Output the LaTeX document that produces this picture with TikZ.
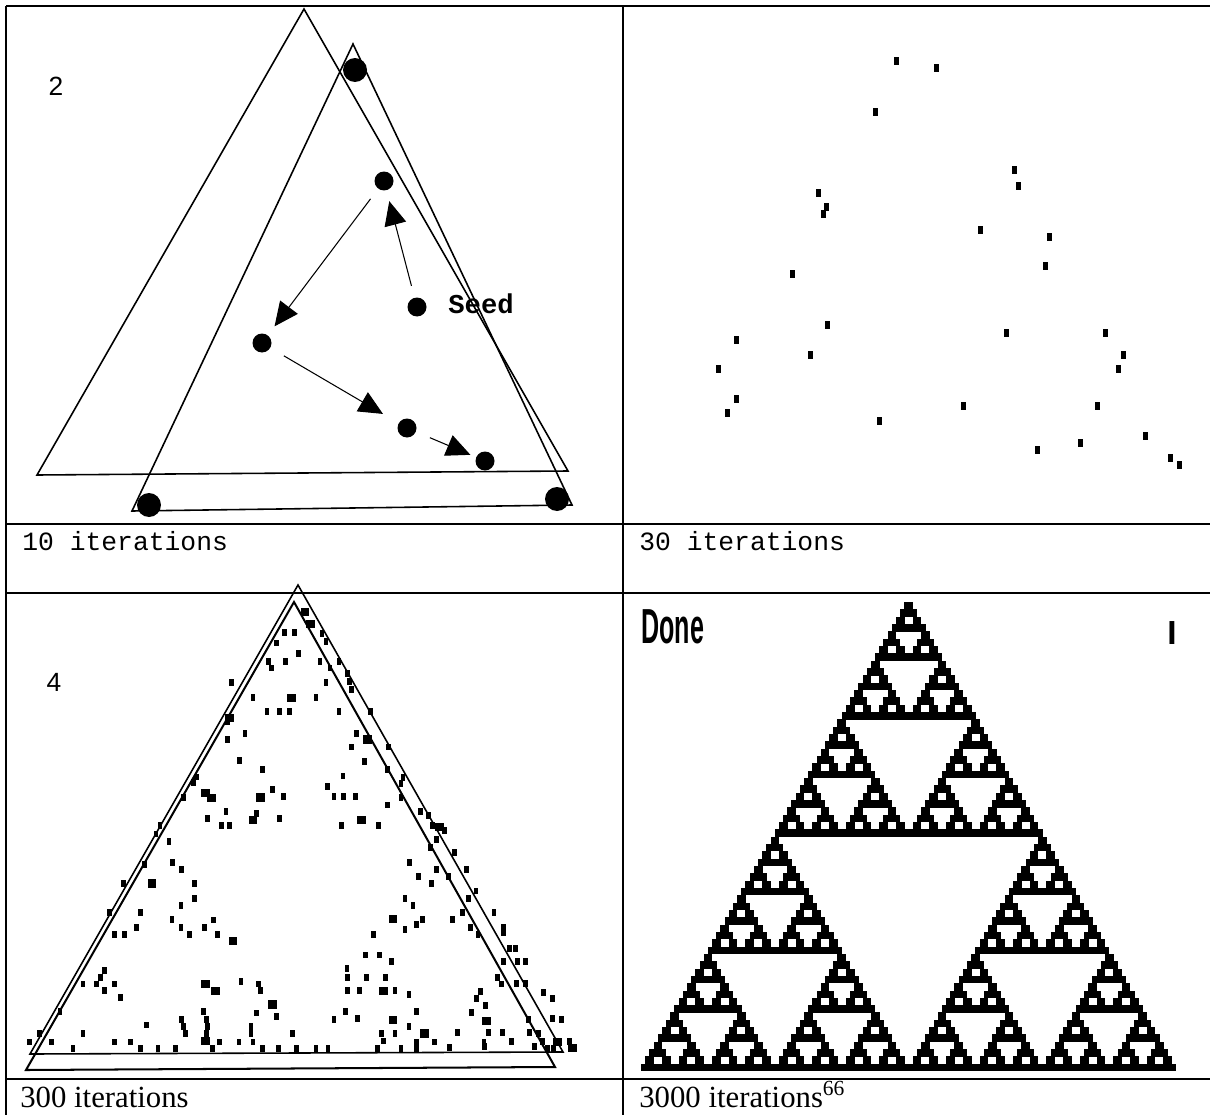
\documentclass[tikz,border=0pt]{standalone}
\usepackage{fontspec}
\setmainfont{Liberation Serif}
\newfontfamily\monofont{Liberation Mono}
\newfontfamily\sansfont{Liberation Sans}
\usetikzlibrary{arrows.meta}
\begin{document}
\begin{tikzpicture}[x=0.02cm,y=-0.02cm]
\tikzset{
  rule/.style={line width=0.85pt},
  tri/.style={line width=0.9pt, line join=miter},
  tribold/.style={line width=1.15pt, line join=miter},
  bigdot/.style={circle, fill=black, inner sep=0pt, minimum size=0.48cm},
  smalldot/.style={circle, fill=black, inner sep=0pt, minimum size=0.38cm},
  arr/.style={line width=0.6pt, -{Triangle[length=0.48cm, width=0.44cm]}},
}
\useasboundingbox (0,0) rectangle (1210,1115);
\fill[white] (0,0) rectangle (1210,1115);

% table rules
\draw[rule] (6,6) -- (1210,6);
\draw[rule] (6,524) -- (1210,524);
\draw[rule] (6,593) -- (1210,593);
\draw[rule] (6,1079) -- (1210,1079);
\draw[rule] (6,6) -- (6,1115);
\draw[rule] (623,6) -- (623,1115);

% ---------------- panel 1 ----------------
\draw[tri] (304,9) -- (37,475) -- (568,471) -- cycle;
\draw[tri] (353,44) -- (132,511) -- (572,505) -- cycle;
\node[bigdot] (c1) at (355,70) {};
\node[bigdot] (c2) at (149,505) {};
\node[bigdot] (c3) at (557,499) {};
\node[smalldot] (p1) at (384,181) {};
\node[smalldot] (seed) at (417,307) {};
\node[smalldot] (p2) at (262,343) {};
\node[smalldot] (p3) at (407,428) {};
\node[smalldot] (p4) at (485,461) {};
\draw[arr, shorten <=0.24cm, shorten >=0.22cm] (seed) -- (p1);
\draw[arr, shorten <=0.25cm, shorten >=0.22cm] (p1) -- (p2);
\draw[arr, shorten <=0.31cm, shorten >=0.36cm] (p2) -- (p3);
\draw[arr, shorten <=0.30cm, shorten >=0.12cm] (p3) -- (p4);
\node[anchor=west, inner sep=0pt, font=\monofont\bfseries\fontsize{15.5}{18}\selectfont] (seedlbl) at (448,304) {Seed};
\node[inner sep=0pt, font=\sansfont\fontsize{15}{18}\selectfont] (lbl2) at (56,86) {2};
\node[anchor=base west, inner sep=0pt, font=\monofont\fontsize{15}{18}\selectfont] (cap1) at (22,550) {10 iterations};

% ---------------- panel 2 ----------------
\foreach \x/\y in {896.9/61.2, 936.6/68.1, 875.1/112.1, 1014.8/170.3, 1018.3/185.6,
  818.7/192.5, 826.8/206.7, 823.0/214.3, 980.2/229.6, 1049.0/236.5, 792.6/274.0,
  1045.1/266.4, 827.6/324.9, 736.2/340.2, 1006.2/333.0, 1105.8/333.0, 810.1/355.1,
  1123.0/355.1, 718.7/369.3, 1118.7/369.3, 736.2/399.2, 727.2/413.3, 963.0/406.0,
  1097.3/406.0, 879.8/420.6, 1145.1/435.9, 1080.2/442.8, 1037.0/450.4, 1170.4/457.7,
  1179.4/465.0}
  \fill (\x-2.5,\y-4) rectangle ++(5,8);
\node[anchor=base west, inner sep=0pt, font=\monofont\fontsize{15}{18}\selectfont] (cap2) at (639,550) {30 iterations};

% ---------------- panel 3 ----------------
\draw[tri] (298,585) -- (30,1054) -- (563,1052) -- cycle;
\draw[tribold] (294,602) -- (26,1070) -- (555,1067) -- cycle;
\begin{scope}[shift={(0,580)}, x=0.0079083cm, y=-0.0068236cm]
\foreach \x/\y in {
 720/155, 745/155, 815/158, 825/180, 700/185, 755/215,
 722/238, 810/238, 858/238, 680/240, 688/258, 835/258, 880/275,
 585/300, 825/300, 885/298, 890/320, 640/345, 800/345,
 676/385, 708/385, 733/385, 858/385, 937/385, 575/415,
 620/450, 902/450, 575/468, 890/490, 983/490, 607/530, 922/532,
 665/555, 980/555, 868/575, 1020/580, 498/578, 490/595, 1015/598,
 828/605, 690/615, 465/638, 717/635, 845/635, 870/635, 900/635, 1015/638,
 980/660, 572/680, 650/685, 1065/680, 1085/690, 525/700, 708/700,
 405/720, 560/720, 580/720, 865/720, 958/720, 1095/720, 1125/735,
 395/745, 1105/760, 428/768, 1090/785, 1150/800,
 437/828, 365/835, 1037/828, 460/850, 1105/850, 1180/850,
 1060/870, 1135/870, 313/890, 493/890, 1092/890, 1205/912,
 493/935, 1025/935, 1185/935, 458/955, 1045/955,
 277/975, 355/975, 1170/975, 1250/975, 435/995, 540/997, 1070/995, 1145/995,
 345/1020, 458/1020, 517/1020, 1055/1010, 1025/1025, 1190/1020, 1275/1020,
 290/1040, 315/1040, 480/1040, 550/1040, 945/1040, 1210/1040, 1275/1035,
 1290/1080, 1305/1080, 925/1100, 960/1100,
 990/1118, 1275/1120, 1310/1120, 1330/1120, 265/1145, 878/1140,
 255/1165, 880/1165, 928/1165, 975/1165, 1260/1165,
 210/1185, 245/1185, 290/1185, 610/1178, 655/1185, 1270/1185, 1307/1184, 1330/1184,
 265/1205, 660/1205, 880/1205, 910/1205, 1000/1205, 1035/1215, 1216/1208, 1376/1211,
 305/1225, 1206/1228, 1399/1228, 1229/1249,
 152/1265, 515/1265, 650/1270, 875/1265, 1055/1265, 1194/1269,
 700/1280, 905/1285, 845/1290, 1399/1287, 1421/1290, 1338/1290, 460/1290, 522/1290, 370/1305,
 465/1310, 525/1310, 635/1310, 1035/1310,
 100/1330, 210/1330, 470/1330, 522/1330, 635/1330, 740/1330, 965/1330, 1000/1330,
 1158/1328, 1237/1328, 1272/1328, 1340/1328, 1363/1331,
 75/1355, 130/1355, 290/1355, 330/1355, 555/1355, 605/1355, 640/1355, 970/1352,
 1055/1355, 1100/1355, 1225/1355, 1295/1354, 1373/1354, 1442/1354,
 185/1375, 355/1375, 400/1375, 445/1375, 538/1375, 665/1375, 705/1375, 750/1375,
 800/1375, 830/1375, 955/1375, 1015/1375, 1055/1375, 1138/1372, 1227/1369, 1353/1369,
 1385/1375, 1400/1375}
  \fill (\x-6,\y-10) rectangle ++(12,20);
\foreach \x/\y in {772/95, 786/128, 737/345, 580/405, 930/468, 520/625, 535/640,
  660/638, 640/705, 915/705, 1112/725, 385/890, 995/995, 590/1058, 520/1185,
  545/1205, 970/1205, 690/1245, 995/1290, 1232/1293, 1075/1330, 520/1352,
  1411/1354, 1449/1372}
  \fill (\x-11,\y-12) rectangle ++(22,24);
\end{scope}
\node[inner sep=0pt, font=\sansfont\fontsize{15}{18}\selectfont] (lbl4) at (54,682) {4};
\node[anchor=base west, inner sep=0pt, font=\fontsize{17.5}{20}\selectfont] (cap3) at (20,1107) {300 iterations};

% ---------------- panel 4 ----------------
\foreach \a in {0,1,2}{
 \foreach \b in {0,1,2}{
  \foreach \c in {0,1,2}{
   \foreach \d in {0,1,2}{
    \foreach \e in {0,1,2}{
     \foreach \f in {0,1,2}{
      \pgfmathsetmacro\rr{32*(\a>0)+16*(\b>0)+8*(\c>0)+4*(\d>0)+2*(\e>0)+(\f>0)}
      \pgfmathsetmacro\cc{32*(\a==2)+16*(\b==2)+8*(\c==2)+4*(\d==2)+2*(\e==2)+(\f==2)}
      \pgfmathsetmacro\xx{908.5+(\cc-(\rr+1)/2)*8.36}
      \pgfmathsetmacro\yy{602+\rr*7.33}
      \fill (\xx,\yy) rectangle ++(8.7,7.6);
     }}}}}}
\node[anchor=north west, inner sep=0pt, font=\sansfont\bfseries\fontsize{28}{30}\selectfont] (done) at (641,609) {\scalebox{0.51}[1]{Done}};
\node[inner sep=0pt, font=\sansfont\bfseries\fontsize{19}{20}\selectfont] (one) at (1172,633) {I};
\node[anchor=base west, inner sep=0pt, font=\fontsize{17.5}{20}\selectfont] (cap4) at (639,1107) {3000 iterations\textsuperscript{66}};
\end{tikzpicture}
\end{document}
